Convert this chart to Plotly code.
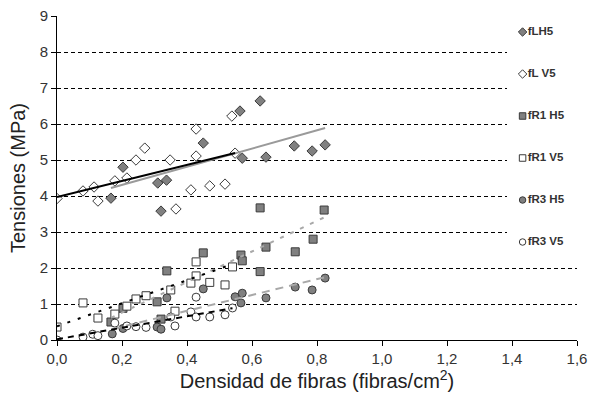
import plotly.graph_objects as go
import numpy as np

# ---------------- data ----------------
series_names = ["fLH5", "fL V5", "fR1 H5", "fR1 V5", "fR3 H5", "fR3 V5"]

fLH5_x = [0.166, 0.203, 0.310, 0.320, 0.337, 0.450, 0.563, 0.570, 0.625, 0.643, 0.730, 0.785, 0.825]
fLH5_y = [3.94, 4.80, 4.36, 3.58, 4.44, 5.47, 6.36, 5.05, 6.64, 5.08, 5.39, 5.25, 5.42]

fLV5_x = [0.000, 0.080, 0.114, 0.126, 0.178, 0.215, 0.243, 0.270, 0.348, 0.366, 0.412, 0.428, 0.428, 0.470, 0.517, 0.538, 0.548]
fLV5_y = [3.93, 4.14, 4.25, 3.86, 4.42, 4.50, 5.00, 5.33, 5.00, 3.64, 4.17, 5.11, 5.86, 4.28, 4.33, 6.22, 5.19]

fR1H5_x = [0.166, 0.203, 0.308, 0.320, 0.338, 0.450, 0.566, 0.570, 0.625, 0.625, 0.643, 0.733, 0.788, 0.822]
fR1H5_y = [0.50, 0.88, 1.06, 0.58, 1.92, 2.42, 2.36, 2.20, 3.67, 1.90, 2.58, 2.45, 2.80, 3.61]

fR1V5_x = [0.000, 0.080, 0.126, 0.178, 0.215, 0.243, 0.274, 0.350, 0.363, 0.412, 0.428, 0.428, 0.470, 0.517, 0.540]
fR1V5_y = [0.36, 1.03, 0.61, 0.72, 0.94, 1.14, 1.23, 1.39, 0.80, 1.58, 1.78, 2.17, 1.60, 1.53, 2.03]

fR3H5_x = [0.170, 0.203, 0.308, 0.320, 0.338, 0.450, 0.548, 0.566, 0.570, 0.643, 0.733, 0.785, 0.825]
fR3H5_y = [0.17, 0.32, 0.36, 0.30, 1.17, 1.42, 1.20, 1.03, 1.30, 1.17, 1.47, 1.39, 1.72]

fR3V5_x = [0.000, 0.080, 0.110, 0.126, 0.178, 0.215, 0.243, 0.274, 0.350, 0.363, 0.412, 0.428, 0.428, 0.470, 0.517, 0.540]
fR3V5_y = [0.00, 0.08, 0.16, 0.12, 0.47, 0.39, 0.37, 0.35, 0.64, 0.39, 0.78, 1.19, 0.64, 0.64, 0.70, 0.89]

# linear trend lines (slope, intercept)
trend_slope = [2.53, 2.23, 4.25, 3.20, 2.20, 1.60]
trend_intercept = [3.80, 3.97, -0.09, 0.38, -0.07, 0.02]

x_tick_vals = [0.0, 0.2, 0.4, 0.6, 0.8, 1.0, 1.2, 1.4, 1.6]
x_tick_text = ["0,0", "0,2", "0,4", "0,6", "0,8", "1,0", "1,2", "1,4", "1,6"]
y_tick_vals = [0, 1, 2, 3, 4, 5, 6, 7, 8, 9]

x_title = "Densidad de fibras (fibras/cm<sup>2</sup>)"
y_title = "Tensiones (MPa)"

# ---------------- styles ----------------
xs = [fLH5_x, fLV5_x, fR1H5_x, fR1V5_x, fR3H5_x, fR3V5_x]
ys = [fLH5_y, fLV5_y, fR1H5_y, fR1V5_y, fR3H5_y, fR3V5_y]
symbols = ["diamond", "diamond", "square", "square", "circle", "circle"]
fills = ["#808080", "#ffffff", "#808080", "#ffffff", "#808080", "#ffffff"]
trend_colors = ["#9a9a9a", "#000000", "#a8a8a8", "#000000", "#a8a8a8", "#000000"]
trend_dash = ["solid", "solid", "4px,7px", "3px,8px", "8px,6px", "6px,5px"]
edge = "#3a3a3a"
FONT = "Liberation Sans, Arial, sans-serif"

fig = go.Figure()

for name, x, y, sym, fc in zip(series_names, xs, ys, symbols, fills):
    fig.add_trace(go.Scatter(
        x=x, y=y, mode="markers", name=name, showlegend=False,
        marker=dict(symbol=sym, size=8, color=fc, line=dict(color=edge, width=1)),
        xaxis="x", yaxis="y"))

for i, name in enumerate(series_names):
    xr = np.array([min(xs[i]), max(xs[i])])
    fig.add_trace(go.Scatter(
        x=xr, y=trend_slope[i] * xr + trend_intercept[i], mode="lines",
        showlegend=False, hoverinfo="skip",
        line=dict(color=trend_colors[i], width=2, dash=trend_dash[i]),
        xaxis="x", yaxis="y"))

# custom legend panel (own subplot, white background hides gridlines)
for i, (name, sym, fc) in enumerate(zip(series_names, symbols, fills)):
    fig.add_trace(go.Scatter(
        x=[0.19], y=[i], mode="markers+text", text=[name],
        textposition="middle right", showlegend=False, hoverinfo="skip",
        textfont=dict(family=FONT, size=11.5, color="#333333", weight="bold"),
        marker=dict(symbol=sym, size=6.5, color=fc, line=dict(color=edge, width=1)),
        xaxis="x2", yaxis="y2"))

W, H = 589, 404
L, B = 57, 64
paper_w = W - L
paper_h = H - B
plot_right = 577
plot_top = 16
legend_left = 507
legend_bottom = 252

fig.update_layout(
    width=W, height=H, autosize=False,
    margin=dict(l=L, r=0, t=0, b=B, pad=0, autoexpand=False),
    paper_bgcolor="white", plot_bgcolor="white",
    font=dict(family=FONT, color="#222222"),
    showlegend=False,
    xaxis=dict(
        domain=[0, (plot_right - L) / paper_w], range=[0, 1.6], automargin=False,
        tickvals=x_tick_vals, ticktext=x_tick_text,
        ticks="outside", ticklen=5, tickcolor="#000", tickwidth=1,
        showline=True, linecolor="#000", linewidth=1, showgrid=False, zeroline=False,
        tickfont=dict(family=FONT, size=15, color="#333333"),
        title=dict(text=x_title, font=dict(family=FONT, size=20, color="#222222"), standoff=6),
    ),
    yaxis=dict(
        domain=[0, (H - B - plot_top) / paper_h], range=[0, 9], automargin=False,
        tickvals=y_tick_vals, ticks="outside", ticklen=5, tickcolor="#000", tickwidth=1,
        showline=True, linecolor="#000", linewidth=1,
        showgrid=True, gridcolor="#000000", gridwidth=1, griddash="4px,3px",
        zeroline=False,
        tickfont=dict(family=FONT, size=15, color="#333333"),
        title=dict(text=y_title, font=dict(family=FONT, size=20, color="#222222"), standoff=8),
    ),
    xaxis2=dict(domain=[(legend_left - L) / paper_w, 1], range=[0, 1], visible=False,
                fixedrange=True, automargin=False),
    yaxis2=dict(domain=[(H - B - legend_bottom) / paper_h, 1], range=[5.238, -0.762],
                visible=False, fixedrange=True, automargin=False),
)

fig.write_html("out.html")
